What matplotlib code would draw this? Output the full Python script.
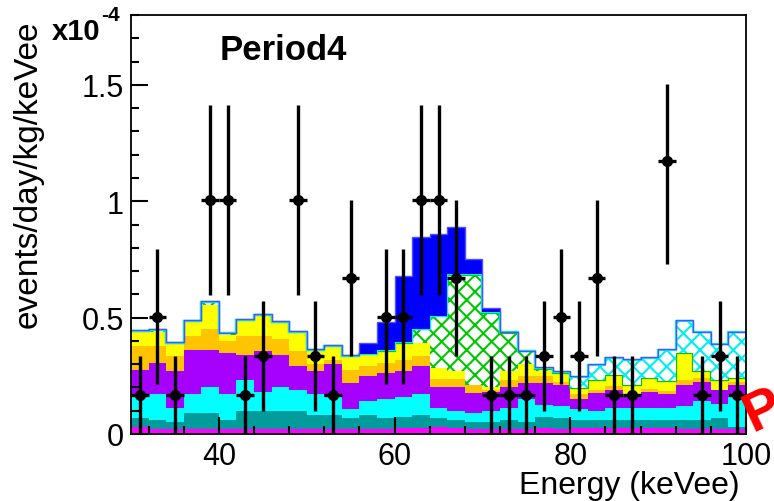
import numpy as np
import matplotlib
matplotlib.use("Agg")
import matplotlib.pyplot as plt
from matplotlib.ticker import MultipleLocator, FuncFormatter

plt.rcParams['font.family'] = ['Liberation Sans', 'DejaVu Sans']
plt.rcParams['hatch.linewidth'] = 1.5

# bin edges (keVee), 2 keV bins
edges = np.arange(30, 101, 2)

# stacked background components, per bin, in units of 1e-4 events/day/kg/keVee
magenta = [.03, .02, .02, .02, .02, .02, .02, .02, .02, .02, .02, .02, .02, .02, .02, .025, .025, .03,
           .025, .02, .02, .02, .02, .024, .02, .025, .025, .025, .025, .025, .025, .02, .02, .02, .02]
teal = [.04, .04, .03, .07, .07, .04, .08, .08, .08, .08, .06, .06, .05, .06, .05, .05, .055, .04,
        .035, .03, .03, .04, .03, .051, .05, .035, .035, .035, .035, .035, .035, .04, .04, .05, .01]
cyan = [.10, .11, .06, .08, .11, .11, .13, .08, .10, .09, .09, .08, .036, .06, .08, .085, .09, .04,
        .04, .04, .05, .05, .10, .051, .05, .047, .04, .05, .05, .05, .05, .06, .08, .06, .14]
purple = [.106, .135, .16, .19, .16, .18, .11, .175, .14, .10, .10, .14, .114, .11, .11, .11, .12, .09,
          .10, .085, .08, .09, .07, .094, .09, .043, .075, .08, .05, .07, .06, .09, .085, .06, .04]
orange = [.10, .071, .063, .06, .09, .05, .08, .065, .07, .065, .03, .02, .056, .04, .045, .05, .045, .035,
          .035, .035, .01, .03, .03, .03, .015, .02, .015, .015, .01, .015, .015, .02, .015, .0, .015]
yellow = [.064, .064, .057, .06, .106, .027, .064, .086, .068, .08, .06, .056, .057, .05, .05, .07, .055, .05,
          .035, .0, .01, .04, .05, .02, .035, .027, .04, .045, .04, .045, .04, .115, .03, .04, .015]
green_hatch = [.004, .006, .003, .005, .012, .006, .005, .006, .003, .003, .003, .003, .003, .003, .003, .003,
               .06, .22, .415, .475, .32, .165, .055, .01, .003, .002, .002, .002, .002, .002, .002, .002,
               .002, .002, .002]
cyan_hatch = [0, 0, 0, 0, 0, 0, 0, 0, 0, 0, 0, 0, 0, .002, .002, .002, .002, .002, .002, .002, .002, .002,
              0, .003, .003, .046, .065, .075, .108, .085, .135, .14, .165, .153, .195]
blue = [.003, .003, .003, .003, .003, .003, .003, .003, .003, .003, .003, .003, .003, .045, .12, .285, .393,
        .353, .201, .063, .021, .003, .003, .003, .003, .003, .003, .003, .003, .003, .003, .003, .003,
        .003, .003]

# data points
data_x = [31, 33, 35, 39, 41, 43, 45, 49, 51, 53, 55, 59, 61, 63, 65, 67, 71, 73, 75, 77, 79, 81, 83,
          85, 87, 91, 95, 97, 99]
data_y = [.168, .503, .168, 1.005, 1.005, .168, .335, 1.005, .335, .168, .67, .503, .503, 1.005, 1.005,
          .67, .168, .168, .168, .335, .503, .335, .67, .168, .168, 1.173, .168, .335, .168]
err_low = [.168, .29, .168, .41, .41, .168, .237, .41, .237, .168, .335, .29, .29, .41, .41, .335, .168,
           .168, .168, .237, .29, .237, .335, .168, .168, .443, .168, .237, .168]
err_high = [.168, .29, .168, .41, .41, .168, .237, .41, .237, .168, .335, .29, .29, .41, .41, .335, .168,
            .168, .168, .237, .29, .237, .335, .168, .168, .33, .168, .237, .168]

fig = plt.figure(figsize=(7.74, 5.02), dpi=100)
ax = fig.add_axes([131 / 774, 1 - 435 / 502, 615 / 774, 419 / 502])

solid = [(magenta, '#ff00ff'), (teal, '#009c9c'), (cyan, '#00ffff'), (purple, '#a600ff'),
         (orange, '#ffc400'), (yellow, '#ffff00')]
bottom = np.zeros(len(edges) - 1)
for vals, col in solid:
    top = bottom + np.array(vals)
    ax.stairs(top, edges, baseline=bottom, fill=True, color=col, lw=0)
    bottom = top

# hatched components (white with cross hatch)
for vals, col in [(green_hatch, '#00c800'), (cyan_hatch, '#00f0f0')]:
    top = bottom + np.array(vals)
    ax.stairs(top, edges, baseline=bottom, fill=True, facecolor='white', edgecolor=col,
              hatch='xx', lw=0)
    ax.stairs(top, edges, baseline=None, color=col, lw=1.6)
    bottom = top

top = bottom + np.array(blue)
ax.stairs(top, edges, baseline=bottom, fill=True, color='#0000ff', lw=0)
ax.stairs(top, edges, baseline=None, color='#5050ff', lw=1.0)

ax.errorbar(data_x, data_y, yerr=[err_low, err_high], xerr=1, fmt='o', color='black', ms=7,
            elinewidth=2.4, capsize=0, zorder=5)

ax.set_xlim(30, 100)
ax.set_ylim(0, 1.8)
ax.xaxis.set_major_locator(MultipleLocator(20))
ax.xaxis.set_minor_locator(MultipleLocator(4))
ax.yaxis.set_major_locator(MultipleLocator(0.5))
ax.yaxis.set_minor_locator(MultipleLocator(0.1))
ax.yaxis.set_major_formatter(FuncFormatter(lambda v, p: '%g' % v))
ax.tick_params(which='both', direction='in', top=False, right=False, labelsize=22, width=1.5)
ax.tick_params(which='major', length=12)
ax.tick_params(which='minor', length=6)
ax.tick_params(axis='x', pad=5)
ax.tick_params(axis='y', pad=5)
for s in ax.spines.values():
    s.set_linewidth(1.3)
    s.set_zorder(6)

fig.text(740 / 774, 1 - 494 / 502, 'Energy (keVee)', fontsize=23, ha='right', va='baseline')
fig.text(37 / 774, 1 - 20 / 502, 'events/day/kg/keVee', fontsize=24, rotation=90,
         rotation_mode='anchor', ha='right', va='baseline')
fig.text(52 / 774, 1 - 40 / 502, 'x10', fontsize=21, fontweight='bold', ha='left', va='baseline')
fig.text(101 / 774, 1 - 21 / 502, '-4', fontsize=15, fontweight='bold', ha='left', va='baseline')
fig.text(220 / 774, 1 - 60 / 502, 'Period4', fontsize=25, fontweight='bold', ha='left', va='baseline')
fig.text(752 / 774, 1 - 432 / 502, 'P', fontsize=40, fontweight='bold', color='red',
         rotation=25, ha='left', va='baseline', rotation_mode='anchor')

fig.savefig('out.png', dpi=100)
